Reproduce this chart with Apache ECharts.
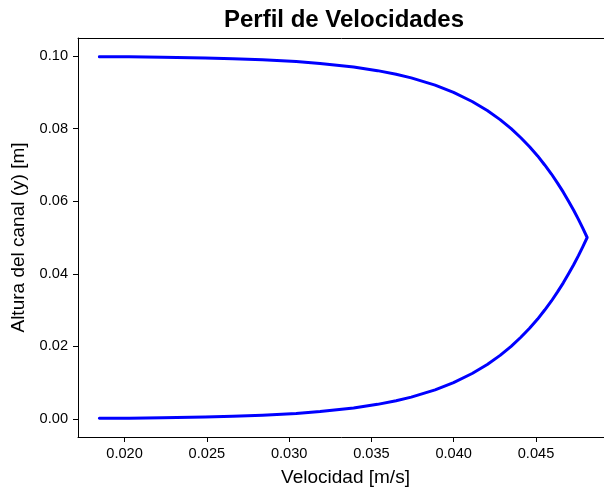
<!DOCTYPE html>
<html>
<head>
<meta charset="utf-8">
<script src="https://cdn.jsdelivr.net/npm/echarts@6/dist/echarts.min.js"></script>
<style>
html,body{margin:0;padding:0;background:#fff;}
#chart{width:604px;height:490px;}
</style>
</head>
<body>
<div id="chart"></div>
<script>
// Velocity profile (x: velocity [m/s], y: channel height [m])
var velocidad = [
  0.01847, 0.02027, 0.02231, 0.02489, 0.02658, 0.02838, 0.03043, 0.03188, 0.03392, 0.03537,
  0.03650, 0.03742, 0.03887, 0.03999, 0.04112, 0.04204, 0.04282, 0.04349, 0.04408, 0.04461,
  0.04510, 0.04553, 0.04594, 0.04631, 0.04666, 0.04698, 0.04729, 0.04758, 0.04785, 0.04811,
  0.04785, 0.04758, 0.04729, 0.04698, 0.04666, 0.04631, 0.04594, 0.04553, 0.04510, 0.04461,
  0.04408, 0.04349, 0.04282, 0.04204, 0.04112, 0.03999, 0.03887, 0.03742, 0.03650, 0.03537,
  0.03392, 0.03188, 0.03043, 0.02838, 0.02658, 0.02489, 0.02231, 0.02027, 0.01847
];
var altura = [
  0.00014, 0.0002, 0.0003, 0.0005, 0.0007, 0.0010, 0.0015, 0.0020, 0.0030, 0.0040,
  0.0050, 0.0060, 0.0080, 0.0100, 0.0125, 0.0150, 0.0175, 0.0200, 0.0225, 0.0250,
  0.0275, 0.0300, 0.0325, 0.0350, 0.0375, 0.0400, 0.0425, 0.0450, 0.0475, 0.0500,
  0.0525, 0.0550, 0.0575, 0.0600, 0.0625, 0.0650, 0.0675, 0.0700, 0.0725, 0.0750,
  0.0775, 0.0800, 0.0825, 0.0850, 0.0875, 0.0900, 0.0920, 0.0940, 0.0950, 0.0960,
  0.0970, 0.0980, 0.0985, 0.0990, 0.0993, 0.0995, 0.0997, 0.0998, 0.09986
];
var xTicks = [0.020, 0.025, 0.030, 0.035, 0.040, 0.045];
var yTicks = [0.00, 0.02, 0.04, 0.06, 0.08, 0.10];

var pts = velocidad.map(function (u, i) { return [u, altura[i]]; });

var chart = echarts.init(document.getElementById('chart'), null, {renderer: 'canvas'});
var font = 'Liberation Sans, Arial, sans-serif';
var X_MIN = 0.01717, X_MAX = 0.04968;
chart.setOption({
  animation: false,
  backgroundColor: '#ffffff',
  title: {
    text: 'Perfil de Velocidades',
    left: 339,
    top: 3,
    textAlign: 'center',
    textStyle: {fontFamily: font, fontSize: 24, fontWeight: 'bold', color: '#000'}
  },
  grid: {
    left: 78, top: 38, width: 535, height: 399,
    containLabel: false,
    outerBoundsMode: 'none',
    show: false
  },
  xAxis: [{
    type: 'value',
    min: X_MIN, max: X_MAX,
    name: 'Velocidad [m/s]',
    nameLocation: 'middle',
    nameGap: 31,
    nameTextStyle: {fontFamily: font, fontSize: 19, color: '#000'},
    axisLine: {show: true, onZero: false, lineStyle: {color: '#000', width: 1}},
    axisTick: {show: true, inside: false, length: 5, lineStyle: {color: '#000'}, customValues: xTicks},
    axisLabel: {
      show: true, margin: 9, fontFamily: font, fontSize: 14.6, color: '#000',
      customValues: xTicks,
      formatter: function (v) { return v.toFixed(3); }
    },
    splitLine: {show: false}
  }, {
    type: 'value',
    position: 'top',
    min: X_MIN, max: X_MAX,
    axisLine: {show: true, onZero: false, lineStyle: {color: '#000', width: 1}},
    axisTick: {show: false},
    axisLabel: {show: false},
    splitLine: {show: false}
  }],
  yAxis: {
    type: 'value',
    min: -0.005, max: 0.105,
    name: 'Altura del canal (y) [m]',
    nameLocation: 'middle',
    nameGap: 47,
    nameTextStyle: {fontFamily: font, fontSize: 19, color: '#000'},
    axisLine: {show: true, onZero: false, lineStyle: {color: '#000', width: 1}},
    axisTick: {show: true, inside: false, length: 5, lineStyle: {color: '#000'}, customValues: yTicks},
    axisLabel: {
      show: true, margin: 10, fontFamily: font, fontSize: 14.6, color: '#000',
      customValues: yTicks,
      formatter: function (v) { return v.toFixed(2); }
    },
    splitLine: {show: false}
  },
  series: [
    {type: 'line', data: pts, xAxisIndex: 0, showSymbol: false, smooth: false, clip: true,
     lineStyle: {color: '#0000ff', width: 3, cap: 'round', join: 'round'}}
  ]
});
</script>
</body>
</html>
